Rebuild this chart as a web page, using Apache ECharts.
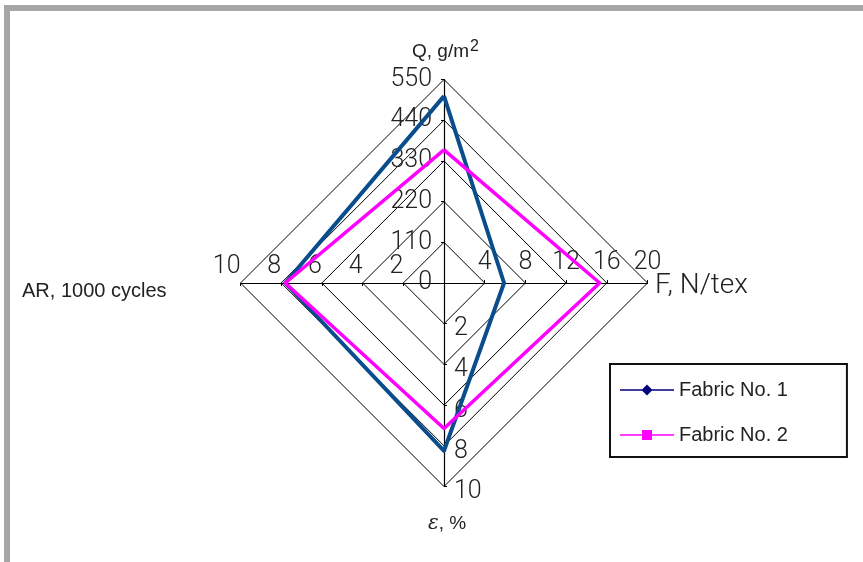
<!DOCTYPE html>
<html>
<head>
<meta charset="utf-8">
<script src="https://cdn.jsdelivr.net/npm/echarts@6/dist/echarts.min.js"></script>
<style>
  html, body { margin: 0; padding: 0; background: #fff; }
  #frame { position: absolute; left: 4px; top: 5px; width: 859px; height: 557px;
           border-top: 6px solid #a6a6a8; border-left: 6px solid #a6a6a8; box-sizing: border-box; }
  #chart { position: absolute; left: 0; top: 0; width: 863px; height: 562px; }
</style>
</head>
<body>
<div id="frame"></div>
<div id="chart"></div>
<script>
// indicator order goes counterclockwise from the top: Q, AR, eps, F
const axisNames = ['Q', 'AR', 'ε', 'F']
const axisMax = [550, 10, 10, 20]
const fabric1 = [505, 7.8, 8.25, 5.9]
const fabric2 = [360, 7.8, 7.15, 15.3]
const seriesNames = ['Fabric No. 1', 'Fabric No. 2']

const tickFont = { fontFamily: 'Roboto', fontWeight: 300, fontSize: 25, color: '#222' }
const textFont = { fontFamily: 'Liberation Sans, Arial', fontSize: 19, fill: '#222' }

const labelSides = [
  { margin: 12, showMinLabel: true },
  { margin: -4, showMinLabel: false, align: 'right', verticalAlign: 'bottom' },
  { margin: 10, showMinLabel: false, verticalAlign: 'top', padding: [-7, 0, 0, 0] },
  { margin: 8, showMinLabel: false }
]

let chart = echarts.init(document.getElementById('chart'), null, { renderer: 'canvas' })

chart.setOption({
  animation: false,
  backgroundColor: 'transparent',
  legend: {
    orient: 'vertical',
    left: 610,
    top: 364,
    padding: [16, 59, 12, 10],
    itemGap: 25,
    itemWidth: 54,
    itemHeight: 12,
    borderColor: '#111',
    borderWidth: 2,
    textStyle: { fontFamily: 'Liberation Sans, Arial', fontSize: 20, color: '#222' },
    data: [
      { name: seriesNames[0], icon: 'path://M0,5.3L54,5.3L54,6.7L0,6.7Z M27,0.5L32.5,6L27,11.5L21.5,6Z',
        itemStyle: { color: '#00007f', borderWidth: 0 } },
      { name: seriesNames[1], icon: 'path://M0,5.3L54,5.3L54,6.7L0,6.7Z M22,1L32,1L32,11L22,11Z',
        itemStyle: { color: '#ff00ff', borderWidth: 0 } }
    ]
  },
  radar: {
    center: [444, 283],
    radius: 203.5,
    startAngle: 90,
    shape: 'polygon',
    splitNumber: 5,
    axisName: { show: false },
    indicator: axisNames.map(function (n, i) {
      return {
        name: n,
        min: 0,
        max: axisMax[i],
        axisLabel: Object.assign({ show: true }, tickFont, labelSides[i])
      }
    }),
    axisLine: { lineStyle: { color: '#000', width: 1.2 } },
    axisTick: { show: true, length: 3, lineStyle: { color: '#000' } },
    splitLine: { lineStyle: { color: '#000', width: 1 } },
    splitArea: { show: false }
  },
  series: [{
    type: 'radar',
    symbol: 'none',
    data: [
      { name: seriesNames[0], value: fabric1,
        lineStyle: { color: '#0a4d8c', width: 4 }, itemStyle: { color: '#0a4d8c' } },
      { name: seriesNames[1], value: fabric2,
        lineStyle: { color: '#ff00ff', width: 3.5 }, itemStyle: { color: '#ff00ff' } }
    ]
  }],
  graphic: [
    { type: 'text', left: 412, top: 42, style: Object.assign({ text: 'Q, g/m' }, textFont) },
    { type: 'text', left: 470, top: 39, style: Object.assign({ text: '2' }, textFont, { fontSize: 16 }) },
    { type: 'text', left: 655, top: 272,
      style: { text: 'F, N/tex', fontFamily: 'Roboto', fontWeight: 300, fontSize: 28, fill: '#222' } },
    { type: 'text', left: 22, top: 281, style: Object.assign({ text: 'AR, 1000 cycles' }, textFont, { fontSize: 20 }) },
    { type: 'text', left: 428, top: 514,
      style: Object.assign({ text: '{e|ε}, %', rich: { e: { fontFamily: 'DejaVu Serif', fontStyle: 'italic', fontSize: 20 } } }, textFont) }
  ]
})
</script>
</body>
</html>
